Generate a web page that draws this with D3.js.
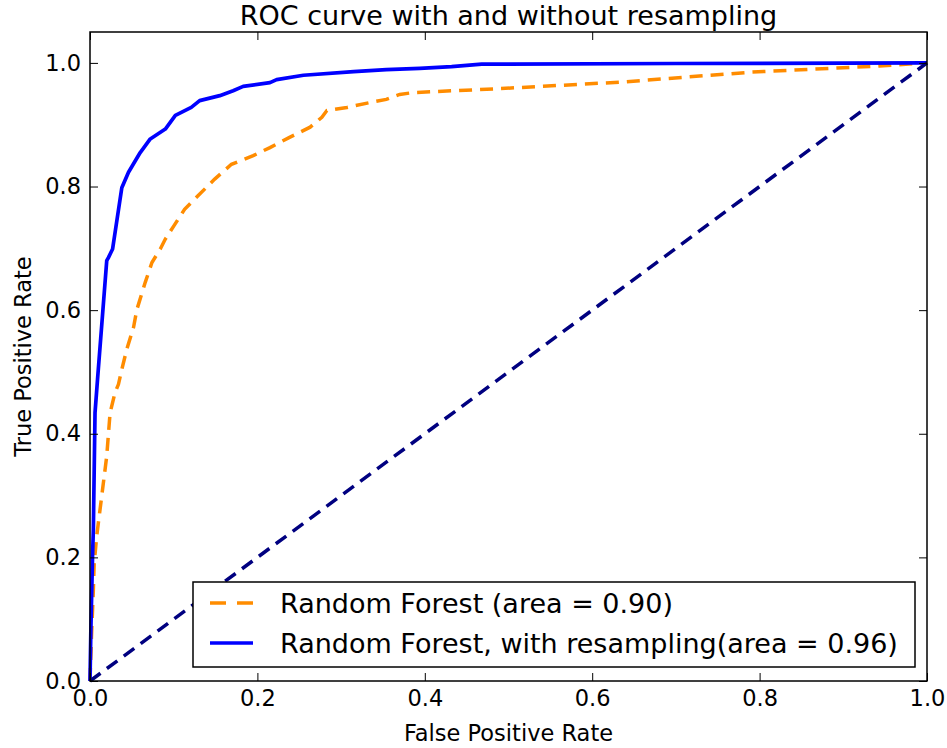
<!DOCTYPE html>
<html>
<head>
  <meta charset="utf-8">
  <title>ROC curve</title>
  <script src="https://d3js.org/d3.v7.min.js"></script>
  <style>
    body { margin: 0; background: #fff; }
    text { font-family: "DejaVu Sans", sans-serif; fill: #000; }
  </style>
</head>
<body>
<script>
// ROC points
var fprRF = [0, 0.002, 0.004, 0.005, 0.008, 0.010, 0.014, 0.020, 0.024, 0.030, 0.034, 0.038, 0.044, 0.052, 0.056, 0.066, 0.074, 0.084, 0.090, 0.100, 0.113, 0.129, 0.149, 0.169, 0.195, 0.215, 0.239, 0.263, 0.277, 0.283, 0.307, 0.335, 0.354, 0.370, 0.386, 0.483, 0.636, 0.789, 0.943, 1.0];
var tprRF = [0, 0.080, 0.147, 0.190, 0.234, 0.256, 0.299, 0.364, 0.434, 0.467, 0.480, 0.504, 0.537, 0.572, 0.601, 0.645, 0.677, 0.699, 0.715, 0.736, 0.763, 0.785, 0.812, 0.836, 0.850, 0.863, 0.880, 0.896, 0.912, 0.923, 0.928, 0.936, 0.941, 0.949, 0.952, 0.958, 0.969, 0.985, 0.995, 1.0];

var fprRS = [0, 0.001, 0.003, 0.004, 0.006, 0.009, 0.020, 0.022, 0.027, 0.038, 0.046, 0.060, 0.072, 0.090, 0.102, 0.121, 0.131, 0.155, 0.171, 0.183, 0.215, 0.223, 0.255, 0.315, 0.354, 0.394, 0.432, 0.468, 0.700, 1.0];
var tprRS = [0, 0.080, 0.200, 0.245, 0.434, 0.488, 0.680, 0.685, 0.699, 0.798, 0.823, 0.855, 0.877, 0.893, 0.915, 0.928, 0.939, 0.947, 0.955, 0.962, 0.968, 0.973, 0.980, 0.986, 0.989, 0.991, 0.994, 0.998, 0.999, 1.0];

var chance = [0, 1];

var ticks = [0, 0.2, 0.4, 0.6, 0.8, 1.0];
var labels = ["Random Forest (area = 0.90)", "Random Forest, with resampling(area = 0.96)"];

function drawChart() {
  var width = 947, height = 748;
  var pl = 90, pr = 927, pt = 32, pb = 681; // plot box edges

  var svg = d3.select("body").append("svg").attr("width", width).attr("height", height);

  var x = d3.scaleLinear().domain([0, 1]).range([pl, pr]);
  var y = d3.scaleLinear().domain([0, 1.05]).range([pb, pt]);

  function pts(xs, ys) { return xs.map(function(v, i) { return [v, ys[i]]; }); }
  var line = d3.line().x(function(d) { return x(d[0]); }).y(function(d) { return y(d[1]); });

  // curves
  svg.append("path").attr("d", line(pts(fprRF, tprRF)))
    .attr("fill", "none").attr("stroke", "darkorange").attr("stroke-width", 3.5)
    .attr("stroke-dasharray", "13,8");
  svg.append("path").attr("d", line(pts(fprRS, tprRS)))
    .attr("fill", "none").attr("stroke", "#0000ff").attr("stroke-width", 3.7)
    .attr("stroke-linejoin", "round");
  svg.append("path").attr("d", line(pts(chance, chance)))
    .attr("fill", "none").attr("stroke", "navy").attr("stroke-width", 3.5)
    .attr("stroke-dasharray", "13,8");

  // axes, ticks pointing inward
  var fmt = d3.format(".1f");
  var gx = svg.append("g").attr("transform", "translate(0," + pb + ")")
    .call(d3.axisBottom(x).tickValues(ticks).tickFormat(fmt).tickSize(-8).tickPadding(9));
  var gy = svg.append("g").attr("transform", "translate(" + pl + ",0)")
    .call(d3.axisLeft(y).tickValues(ticks).tickFormat(fmt).tickSize(-8).tickPadding(9));
  svg.append("g").attr("transform", "translate(0," + pt + ")")
    .call(d3.axisTop(x).tickValues(ticks).tickFormat("").tickSize(-8));
  svg.append("g").attr("transform", "translate(" + pr + ",0)")
    .call(d3.axisRight(y).tickValues(ticks).tickFormat("").tickSize(-8));
  svg.selectAll(".domain").remove();
  svg.selectAll(".tick line").attr("stroke", "#000").attr("stroke-width", 1);
  gx.selectAll("text").style("font-size", "22.5px").style("font-family", "DejaVu Sans");
  gy.selectAll("text").style("font-size", "22.5px").style("font-family", "DejaVu Sans");

  svg.append("rect").attr("x", pl).attr("y", pt)
    .attr("width", pr - pl).attr("height", pb - pt)
    .attr("fill", "none").attr("stroke", "#000").attr("stroke-width", 1.5);

  // legend
  var lg = svg.append("g");
  lg.append("rect").attr("x", 193).attr("y", 582).attr("width", 722).attr("height", 85)
    .attr("fill", "#fff").attr("stroke", "#000").attr("stroke-width", 1.5);
  var rows = [
    { label: labels[0], color: "darkorange", dash: "16,11", y: 603 },
    { label: labels[1], color: "#0000ff", dash: null, y: 643 }
  ];
  rows.forEach(function(r) {
    lg.append("line").attr("x1", 210).attr("x2", 253).attr("y1", r.y).attr("y2", r.y)
      .attr("stroke", r.color).attr("stroke-width", 3.7)
      .attr("stroke-dasharray", r.dash);
    lg.append("text").attr("x", 280).attr("y", r.y).attr("dy", "0.36em")
      .style("font-size", "27px").text(r.label);
  });

  // titles
  svg.append("text").attr("x", (pl + pr) / 2).attr("y", 25)
    .attr("text-anchor", "middle").style("font-size", "27px")
    .text("ROC curve with and without resampling");
  svg.append("text").attr("x", (pl + pr) / 2).attr("y", 741)
    .attr("text-anchor", "middle").style("font-size", "22.5px")
    .text("False Positive Rate");
  svg.append("text").attr("transform", "translate(31," + ((pt + pb) / 2) + ") rotate(-90)")
    .attr("text-anchor", "middle").style("font-size", "22.5px")
    .text("True Positive Rate");
}

drawChart();
</script>
</body>
</html>
